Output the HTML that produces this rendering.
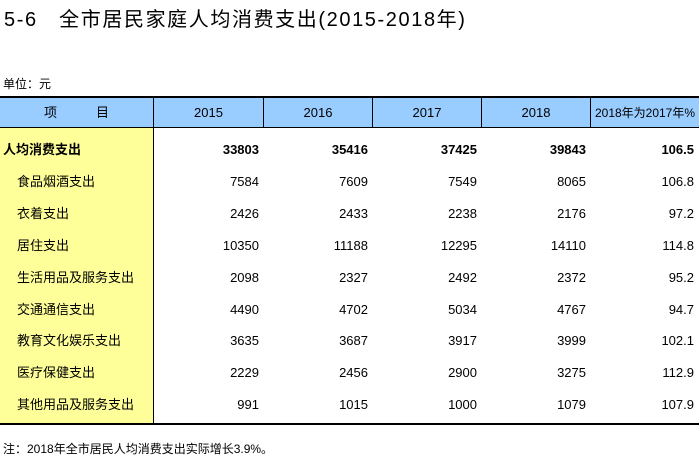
<!DOCTYPE html>
<html><head><meta charset="utf-8">
<style>
body{margin:0;width:699px;height:466px;background:#fff;position:relative;overflow:hidden;font-family:"Liberation Sans","Noto Sans CJK SC",sans-serif;color:#000}
.a{position:absolute;white-space:nowrap;line-height:16px}
.t{font-size:20px;left:4px;top:9px;letter-spacing:1.6px;line-height:22px}
.c{font-size:13px}
.n{text-align:right;font-size:13px}
.b{font-weight:bold}
</style></head><body>
<div class="a t">5-6&nbsp;&nbsp;&nbsp;全市居民家庭人均消费支出(2015-2018年)</div>
<div class="a c" style="left:3px;top:76px;font-size:12px">单位：元</div>
<div class="a" style="left:0;top:96px;width:699px;height:2px;background:#000"></div>
<div class="a" style="left:0;top:98px;width:699px;height:29px;background:#99ccff"></div>
<div class="a" style="left:0;top:127px;width:699px;height:1px;background:#000"></div>
<div class="a" style="left:0;top:128px;width:153px;height:295px;background:#ffff99"></div>
<div class="a" style="left:153px;top:98px;width:1px;height:325px;background:#000"></div>
<div class="a" style="left:263px;top:98px;width:1px;height:29px;background:#000"></div>
<div class="a" style="left:372px;top:98px;width:1px;height:29px;background:#000"></div>
<div class="a" style="left:481px;top:98px;width:1px;height:29px;background:#000"></div>
<div class="a" style="left:590px;top:98px;width:1px;height:29px;background:#000"></div>
<div class="a" style="left:0;top:423px;width:699px;height:2px;background:#000"></div>
<div id="hdr"></div>
<div id="body"></div>
<div class="a" style="left:3px;top:441px;font-size:12px">注：2018年全市居民人均消费支出实际增长3.9%。</div>
<script>
const headers=["2015","2016","2017","2018","2018年为2017年%"];
const items=["人均消费支出","食品烟酒支出","衣着支出","居住支出","生活用品及服务支出","交通通信支出","教育文化娱乐支出","医疗保健支出","其他用品及服务支出"];
const v2015=[33803,7584,2426,10350,2098,4490,3635,2229,991];
const v2016=[35416,7609,2433,11188,2327,4702,3687,2456,1015];
const v2017=[37425,7549,2238,12295,2492,5034,3917,2900,1000];
const v2018=[39843,8065,2176,14110,2372,4767,3999,3275,1079];
const ratio=["106.5","106.8","97.2","114.8","95.2","94.7","102.1","112.9","107.9"];
const colL=[154,264,373,482,591],colR=[263,372,481,590,699];
const H=document.getElementById('hdr');
let h=document.createElement('div');h.className='a c';


h.style.cssText='left:0;width:153px;top:105px;text-align:center';h.textContent='项\u3000\u3000\u3000目';H.appendChild(h);
headers.forEach((t,i)=>{const d=document.createElement('div');d.className='a c';


d.style.cssText=`left:${colL[i]}px;width:${colR[i]-colL[i]}px;top:105px;text-align:center;font-size:${i==4?12:13}px`;d.textContent=t;H.appendChild(d);});
const B=document.getElementById('body');
const cols=[v2015,v2016,v2017,v2018,ratio];
items.forEach((it,r)=>{const y=142+r*31.9;
const l=document.createElement('div');l.className='a c'+(r==0?' b':'');


l.style.cssText=`left:${r==0?3:17}px;top:${y}px`;l.textContent=it;B.appendChild(l);
cols.forEach((c,i)=>{const d=document.createElement('div');d.className='a n'+(r==0?' b':'');


d.style.cssText=`left:${colL[i]}px;width:${colR[i]-colL[i]-(i==4?5:4)}px;top:${y}px`;d.textContent=c[r];B.appendChild(d);});
});
</script>
</body></html>
